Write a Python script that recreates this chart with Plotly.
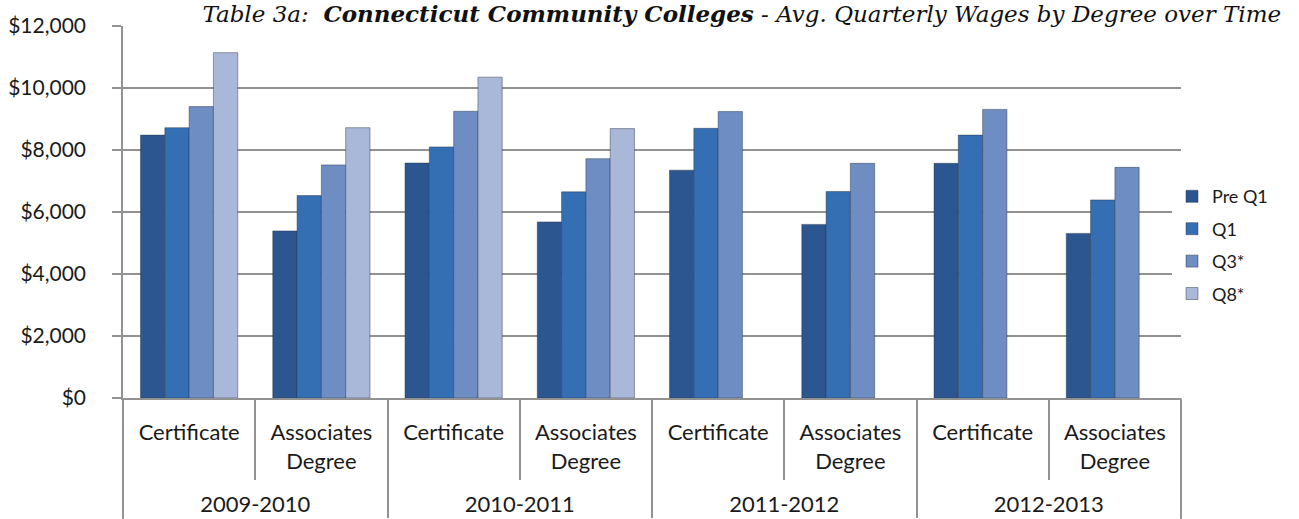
import plotly.graph_objects as go

# average quarterly wages
years = ["2009-2010", "2009-2010", "2010-2011", "2010-2011",
         "2011-2012", "2011-2012", "2012-2013", "2012-2013"]
degrees = ["Certificate<br> <br> ", "Associates<br>Degree<br> "] * 4

pre_q1 = [8480, 5390, 7580, 5680, 7350, 5600, 7570, 5310]
q1 = [8720, 6530, 8100, 6650, 8700, 6660, 8480, 6390]
q3 = [9400, 7520, 9250, 7720, 9240, 7570, 9310, 7440]
q8 = [11140, 8720, 10350, 8690, None, None, None, None]

series = [
    ("Pre Q1", pre_q1, "#2b5690"),
    ("Q1", q1, "#346fb3"),
    ("Q3*", q3, "#6e8dc3"),
    ("Q8*", q8, "#a9b8d8"),
]

fig = go.Figure()
for name, vals, col in series:
    fig.add_trace(go.Bar(
        x=[years, degrees], y=vals, name=name, legendgroup=name,
        marker=dict(color=col, line=dict(color="rgba(40,50,70,0.45)", width=1)),
    ))

font = "Lato, 'Open Sans', sans-serif"
grey = "#929292"

fig.update_layout(
    width=1299, height=519,
    margin=dict(l=123, r=118, t=26, b=121),
    paper_bgcolor="white", plot_bgcolor="white",
    barmode="group", bargap=0.265, bargroupgap=0,
    font=dict(family=font, size=20, color="#1a1a1a"),
    title=dict(
        text="<i>Table 3a:  <b>Connecticut Community Colleges</b> - Avg. Quarterly Wages by Degree over Time</i>",
        font=dict(family="'DejaVu Serif', serif", size=23, color="#111"),
        xref="container", x=0.571, xanchor="center",
        yref="container", y=0.974, yanchor="middle",
    ),
    legend=dict(
        x=0.9915, xanchor="left", y=0.411, yanchor="middle",
        font=dict(family=font, size=18, color="#1a1a1a"),
        tracegroupgap=6, itemwidth=30,
    ),
    showlegend=True,
    shapes=[
        dict(type="line", xref="paper", yref="paper", x0=0, x1=0, y0=0, y1=-121 / 372,
             line=dict(color=grey, width=1.5)),
        dict(type="line", xref="paper", yref="paper", x0=1, x1=1, y0=0, y1=-121 / 372,
             line=dict(color=grey, width=1.5)),
    ],
)

fig.update_yaxes(
    range=[0, 12000], dtick=2000, tickprefix="$", tickformat=",",
    showgrid=True, gridcolor=grey, gridwidth=1.5,
    showline=True, linecolor=grey, linewidth=1.5,
    ticks="outside", ticklen=9, tickcolor=grey, tickwidth=1.5,
    ticklabelstandoff=22,
    tickfont=dict(size=21), zeroline=False, automargin=False,
)
fig.update_xaxes(
    type="multicategory", automargin=False,
    showline=True, linecolor=grey, linewidth=1.5,
    ticks="outside", tickson="boundaries", ticklen=80, tickcolor=grey, tickwidth=1.5,
    showdividers=True, dividercolor=grey, dividerwidth=1.5,
    ticklabelstandoff=14,
    tickfont=dict(size=22),
)

# the page's default 8px body margin would shift the whole chart
fig.write_html("out.html", config={"displayModeBar": False},
               post_script="document.body.style.margin = '0';")
